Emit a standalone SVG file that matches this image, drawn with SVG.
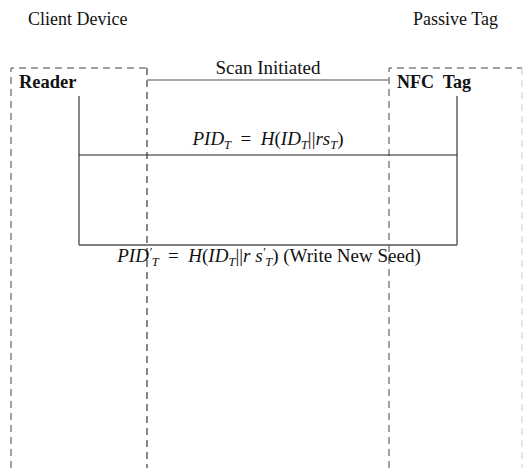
<svg xmlns="http://www.w3.org/2000/svg" width="523" height="468" viewBox="0 0 523 468">
  <style>
    .lbl { font-family: "Liberation Serif", "Times New Roman", serif; font-size: 18px; fill: #111; }
    .math { font-size: 19px; }
    .bold { font-weight: bold; }
    .it { font-style: italic; }
    .sub { font-size: 12.5px; font-style: italic; }
    .frame { fill: none; stroke-dasharray: 7 5; }
    .life { stroke: #111; stroke-width: 1; fill: none; }
    .msg { stroke: #222; stroke-width: 1.2; fill: none; }
  </style>
  <rect width="523" height="468" fill="#fff"/>

  <!-- Client device side: reader -->
  <g id="reader">
    <text class="lbl" x="28" y="25">Client Device</text>
    <path class="frame" d="M11 468 V68 H147" stroke="#444" stroke-width="1"/>
    <path class="frame" d="M147 68 V468" stroke="#888" stroke-width="2"/>
    <text class="lbl bold" x="19" y="88" style="font-size:18.5px">Reader</text>
    <line class="life" x1="79" y1="96" x2="79" y2="245"/>
  </g>

  <!-- Passive tag side: NFC tag -->
  <g id="nfc-tag">
    <text class="lbl" x="413" y="25">Passive Tag</text>
    <path class="frame" d="M389 468 V68 H522" stroke="#444" stroke-width="1"/>
    <path class="frame" d="M522 68 V468" stroke="#ccc" stroke-width="1"/>
    <text class="lbl bold" x="397" y="88" xml:space="preserve">NFC  Tag</text>
    <line class="life" x1="457" y1="96" x2="457" y2="245"/>
  </g>

  <!-- Messages -->
  <g id="connectors">
    <line x1="147" y1="80" x2="389" y2="80" stroke="#888" stroke-width="1.5"/>
    <text class="lbl" x="268" y="74" text-anchor="middle" style="font-size:19px">Scan Initiated</text>

    <line class="msg" x1="79" y1="155" x2="457" y2="155"/>
    <text class="lbl math" x="268" y="145" text-anchor="middle" xml:space="preserve"><tspan class="it">PID</tspan><tspan class="sub" dy="4">T</tspan><tspan dy="-4">  =  </tspan><tspan class="it">H</tspan><tspan>(</tspan><tspan class="it">ID</tspan><tspan class="sub" dy="4">T</tspan><tspan dy="-4">||</tspan><tspan class="it">rs</tspan><tspan class="sub" dy="4">T</tspan><tspan dy="-4">)</tspan></text>

    <line x1="79" y1="245" x2="457" y2="245" stroke="#555" stroke-width="1.5"/>
    <text class="lbl math" x="269" y="262" text-anchor="middle" xml:space="preserve"><tspan class="it">PID</tspan><tspan class="sub" dy="-6">′</tspan><tspan class="sub" dy="10">T</tspan><tspan dy="-4">  =  </tspan><tspan class="it">H</tspan><tspan>(</tspan><tspan class="it">ID</tspan><tspan class="sub" dy="4">T</tspan><tspan dy="-4">||</tspan><tspan class="it">r s</tspan><tspan class="sub" dy="-6">′</tspan><tspan class="sub" dy="10">T</tspan><tspan dy="-4">) (Write New Seed)</tspan></text>
  </g>
</svg>
